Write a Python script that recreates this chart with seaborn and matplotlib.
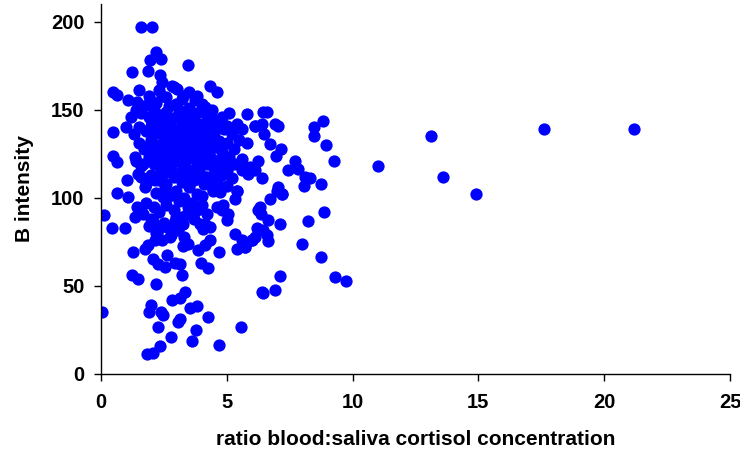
import matplotlib
matplotlib.use("Agg")
import matplotlib.pyplot as plt
import seaborn as sns
import pandas as pd

# puntos sueltos a la derecha y alrededor de la nube
ratio_out = [21.2, 17.6, 14.9, 13.6, 13.1, 11.0, 9.74, 9.30, 9.26, 8.93, 8.84, 8.48, 8.45,
             8.74, 8.31, 8.11, 8.08, 8.88, 8.21, 8.00, 8.74, 7.84, 7.71, 7.44, 7.15, 7.18,
             7.02, 6.98, 7.21, 7.11, 7.13, 6.92, 6.92, 6.96, 6.72, 6.72, 6.61, 6.41, 7.05,
             6.49, 6.12, 6.23, 6.12, 6.39, 6.32, 6.36, 6.63, 6.19, 6.12, 6.59, 6.63, 6.44,
             6.39, 6.45, 6.25, 5.99, 5.72, 5.79, 6.45, 6.12]
b_out = [139, 139, 102, 112, 135, 118, 53, 55, 121, 130, 143.5, 140, 135,
         108, 111, 112, 106.5, 92, 87, 74, 66.5, 116.5, 121, 115.6, 128, 102,
         106, 104, 102, 85, 55.5, 47.6, 142, 123.5, 130.3, 99.5, 148.6, 142, 141,
         136, 141, 121, 115.6, 111.4, 94.8, 90.7, 87.3, 83, 78, 78.8, 75.5, 46,
         46.3, 81.6, 93, 76, 72, 147.7, 148.6, 141]

# parte alta (por encima de 160)
ratio_top = [1.59, 2.01, 2.19, 2.37, 1.95, 1.88, 3.47, 1.22, 2.34, 2.41, 2.81, 3.01,
             4.33, 4.60, 1.52, 1.09, 1.42, 1.95, 2.41, 3.27, 3.74, 4.13, 4.46, 4.73]
b_top = [197, 197, 183, 179, 178, 172, 175.6, 171.3, 170, 165.6, 163.7, 161.9,
         163.7, 160, 161, 155.6, 154.3, 155.6, 158, 158, 155.6, 151.5, 145, 141]

# columna izquierda (x < 1.5)
ratio_left = [0.48, 0.62, 0.49, 0.98, 0.46, 0.62, 1.02, 0.62, 1.09, 0.13, 0.45, 0.95,
              1.35, 1.48, 1.42, 1.35, 0.03, 1.28, 1.22, 1.46, 1.20, 1.30]
b_left = [160, 158.5, 137.6, 140, 123.5, 120.6, 110, 102.7, 100.5, 90.3, 83, 83,
          123, 113.7, 94.8, 89, 35.4, 69.3, 56, 54.2, 146, 136]

# nube central
ratio_core = [1.9, 2.3, 2.6, 2.9, 3.2, 3.5, 3.0, 2.7, 2.2, 1.7, 3.8, 4.0,
              1.6, 1.9, 2.1, 2.4, 2.6, 2.8, 3.1, 3.3, 3.5, 3.7, 3.9, 4.2, 2.0, 2.5, 3.0, 3.4,
              4.4, 4.8, 5.1, 1.4,
              1.5, 1.8, 2.0, 2.2, 2.4, 2.6, 2.7, 2.9, 3.1, 3.2, 3.4, 3.5, 3.6, 3.8, 4.0, 4.1,
              4.3, 4.5, 4.7, 4.9, 5.2, 5.4, 2.3, 2.8, 3.3, 3.7, 3.9, 4.4, 5.0, 5.6,
              1.5, 1.7, 2.0, 2.1, 2.3, 2.5, 2.6, 2.8, 3.0, 3.0, 3.2, 3.3, 3.4, 3.5, 3.6, 3.7,
              3.8, 3.9, 4.0, 4.2, 4.3, 4.5, 4.6, 4.8, 5.0, 5.3, 5.5, 2.4, 2.9, 3.1, 4.1, 4.7,
              5.8, 1.68, 1.95, 2.08,
              1.4, 1.6, 1.9, 2.1, 2.2, 2.5, 2.7, 2.8, 3.0, 3.1, 3.3, 3.4, 3.5, 3.6, 3.8, 3.9,
              4.0, 4.2, 4.4, 4.5, 4.7, 4.9, 5.1, 5.3, 5.6, 5.59, 5.85, 5.92, 2.4, 3.2, 4.3,
              5.0, 4.13, 4.53,
              1.6, 1.8, 2.0, 2.3, 2.5, 2.6, 2.9, 3.0, 3.2, 3.4, 3.5, 3.7, 3.8, 3.9, 4.1, 4.2,
              4.4, 4.6, 4.8, 5.0, 5.2, 5.4, 2.2, 2.7, 3.3, 4.0, 1.75, 2.15, 2.54, 2.48,
              4.46, 4.73, 5.39, 5.33]
b_core = [158, 161, 157, 163, 156, 160, 153, 152, 154, 152, 158, 153,
          148, 146, 150, 147, 149, 145, 150, 147, 151, 146, 149, 147, 144, 144, 146, 144,
          150, 146, 148, 150,
          140, 138, 141, 137, 140, 136, 142, 139, 137, 142, 139, 135, 141, 138, 142, 136,
          140, 137, 143, 139, 136, 142, 143, 136, 135, 143, 135, 143, 141, 139,
          131, 128, 133, 126, 130, 133, 127, 131, 128, 134, 130, 126, 133, 129, 132, 126,
          130, 134, 128, 131, 126, 133, 129, 126, 131, 128, 133, 126, 125, 132, 134, 132,
          131, 119.4, 130.7, 127,
          121, 118, 123, 119, 124, 120, 123, 117, 121, 125, 118, 122, 116, 124, 120, 116,
          123, 119, 122, 117, 121, 118, 123, 119, 122, 115.6, 113.7, 117.4, 116, 115, 125,
          116, 111.8, 111.8,
          112, 108, 113, 110, 114, 108, 112, 104, 109, 113, 106, 110, 102, 114, 108, 112,
          106, 109, 113, 107, 111, 104, 103, 101, 100, 101, 106, 110, 106, 100.5,
          104, 103.3, 104, 99.5]

# zona baja de la nube (entre 60 y 100)
ratio_mid = [1.8, 2.1, 2.3, 2.6, 2.9, 3.1, 3.4, 3.6, 3.8, 4.0, 2.0, 2.5, 3.0, 3.7, 4.2,
             1.9, 2.2, 2.8, 3.3, 1.68, 2.08, 2.28, 2.94, 3.21, 3.47, 4.13, 4.33, 4.80,
             5.06, 5.0, 4.60, 4.86, 3.93, 4.07, 4.33, 3.27, 3.07, 2.61, 2.74, 2.15, 2.41,
             3.47, 5.33, 5.59, 1.75, 1.88, 2.08, 2.28, 2.54, 2.61, 2.94, 3.14, 3.27, 3.87,
             4.13, 3.97, 4.27, 4.69, 5.39, 5.72, 5.99]
b_mid = [97, 95, 92, 96, 93, 98, 91, 97, 93, 96, 88, 86, 89, 88, 91,
         84, 80, 79, 78, 91, 87, 81.6, 87, 89, 94.8, 85.4, 83.5, 93,
         91, 87.3, 94.8, 95.8, 85.4, 82.5, 75.9, 85.4, 81.6, 83.5, 77.8, 75.9, 75.9,
         74, 79.7, 75.9, 71.2, 73, 65.5, 62.7, 60.8, 67.4, 63, 62.3, 72.5, 70.3,
         73, 63, 60.4, 69.3, 71.2, 72.1, 75.9]

# valores bajos (por debajo de 60)
ratio_low = [2.19, 3.21, 1.97, 1.91, 2.38, 2.48, 2.28, 2.78, 2.34, 1.82, 2.08, 2.83,
             3.14, 3.34, 3.05, 3.14, 3.54, 3.80, 3.76, 3.63, 4.27, 4.70, 5.55]
b_low = [51, 56, 39, 35.3, 35.3, 33.4, 26.4, 20.8, 15.9, 11.2, 11.7, 41.9,
         43.4, 46.3, 29.6, 31, 37.2, 38.5, 24.9, 18.9, 32.5, 16.4, 26.4]

ratio = ratio_out + ratio_top + ratio_left + ratio_core + ratio_mid + ratio_low
b_int = b_out + b_top + b_left + b_core + b_mid + b_low
df = pd.DataFrame({'ratio': ratio, 'B': b_int})

sns.set_style('white')
plt.rcParams['font.family'] = ['Liberation Sans', 'DejaVu Sans']
plt.rcParams['text.color'] = 'black'
plt.rcParams['axes.labelcolor'] = 'black'
plt.rcParams['xtick.color'] = 'black'
plt.rcParams['ytick.color'] = 'black'

fig = plt.figure(figsize=(7.4, 4.53), dpi=100)
ax = fig.add_axes([0.1365, 0.1744, 0.85, 0.8166])
sns.scatterplot(data=df, x='ratio', y='B', color='#0000ff', s=78, linewidth=0, ax=ax)

ax.set_xlim(0, 25)
ax.set_ylim(0, 210)
ax.set_xticks([0, 5, 10, 15, 20, 25])
ax.set_yticks([0, 50, 100, 150, 200])
for sp in ['top', 'right']:
    ax.spines[sp].set_visible(False)
for sp in ['left', 'bottom']:
    ax.spines[sp].set_color('black')
    ax.spines[sp].set_linewidth(1.0)
ax.tick_params(axis='both', direction='out', length=5, width=1, color='black',
               labelsize=14.5, bottom=True, left=True)
ax.tick_params(axis='x', pad=9)
ax.tick_params(axis='y', pad=7)
for lab in ax.get_xticklabels() + ax.get_yticklabels():
    lab.set_fontweight('bold')
ax.set_xlabel('ratio blood:saliva cortisol concentration', fontsize=15,
              fontweight='bold', labelpad=13)
ax.set_ylabel('B intensity', fontsize=15, fontweight='bold', labelpad=12)

fig.savefig('out.png', dpi=100)
